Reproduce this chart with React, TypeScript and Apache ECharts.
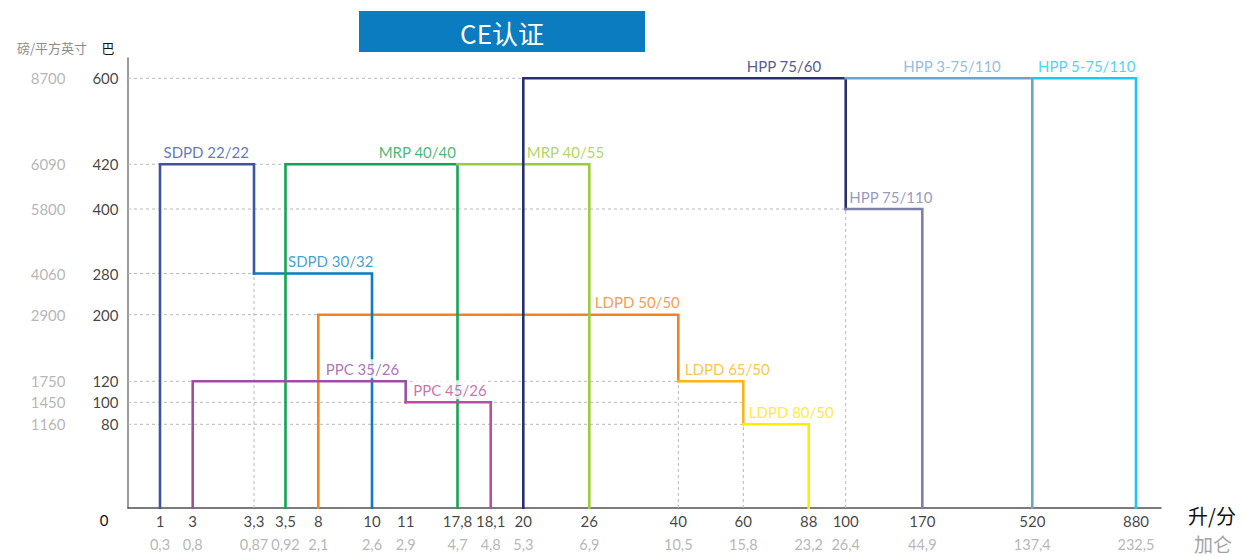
import React, { useEffect, useRef } from "react";
import * as echarts from "echarts";

// ---------- data ----------
const FLOW_TICKS = [1, 3, 3.3, 3.5, 8, 10, 11, 17.8, 18.1, 20, 26, 40, 60, 88, 100, 170, 520, 880];
const FLOW_LABELS = ["1", "3", "3,3", "3,5", "8", "10", "11", "17,8", "18,1", "20", "26", "40", "60", "88", "100", "170", "520", "880"];
const GALLON_LABELS = ["0,3", "0,8", "0,87", "0,92", "2,1", "2,6", "2,9", "4,7", "4,8", "5,3", "6,9", "10,5", "15,8", "23,2", "26,4", "44,9", "137,4", "232,5"];
const BAR_TICKS = [80, 100, 120, 200, 280, 400, 420, 600];
const PSI_LABELS = ["1160", "1450", "1750", "2900", "4060", "5800", "6090", "8700"];

// pump curves: [flow l/min, pressure bar]
const SDPD_22_22 = [[1, 0], [1, 420], [3.3, 420], [3.3, 280]];
const SDPD_30_32 = [[3.3, 280], [10, 280], [10, 0]];
const MRP_40_40 = [[3.5, 0], [3.5, 420], [17.8, 420], [17.8, 0]];
const MRP_40_55 = [[17.8, 420], [26, 420], [26, 0]];
const HPP_75_60 = [[20, 0], [20, 600], [100, 600], [100, 400]];
const HPP_75_110 = [[100, 400], [170, 400], [170, 0]];
const HPP_3_75_110 = [[100, 600], [520, 600], [520, 0]];
const HPP_5_75_110 = [[520, 600], [880, 600], [880, 0]];
const LDPD_50_50 = [[8, 0], [8, 200], [40, 200], [40, 120]];
const LDPD_65_50 = [[40, 120], [60, 120], [60, 80]];
const LDPD_80_50 = [[60, 80], [88, 80], [88, 0]];
const PPC_35_26 = [[3, 0], [3, 120], [11, 120], [11, 100]];
const PPC_45_26 = [[11, 100], [18.1, 100], [18.1, 0]];

// dashed guide lines: [pressure, flow end] and [flow, pressure end]
const H_GUIDES = [[600, 20], [420, 3.5], [400, 100], [280, 3.3], [200, 8], [120, 40], [100, 60], [80, 60]];
const V_GUIDES = [[3.3, 280], [40, 120], [60, 80], [100, 400]];

// ---------- scale (piecewise, as drawn in the original) ----------
const X_SCALE_VALUES = [0, ...FLOW_TICKS];
const X_SCALE_POS = [0, 32, 64.7, 126, 157.5, 190.3, 244, 277.7, 329.5, 362.7, 395.3, 461.3, 550.3, 615.3, 680.7, 717.7, 794.3, 904.3, 1008];
const Y_SCALE_VALUES = [0, ...BAR_TICKS];
const Y_SCALE_POS = [0, 83.7, 105.7, 126.7, 193.3, 234.5, 299, 343.7, 429.7];
const X_MAX = 1033;
const Y_MAX = 450;

function mapPiece(v: number, vals: number[], pos: number[]) {
  for (let i = 0; i < vals.length - 1; i++) {
    if (v >= vals[i] && v <= vals[i + 1]) {
      const t = (v - vals[i]) / (vals[i + 1] - vals[i]);
      return pos[i] + t * (pos[i + 1] - pos[i]);
    }
  }
  return pos[pos.length - 1];
}
const fx = (v: number) => mapPiece(v, X_SCALE_VALUES, X_SCALE_POS);
const fy = (v: number) => mapPiece(v, Y_SCALE_VALUES, Y_SCALE_POS);
const pt = (p: number[]) => [fx(p[0]), fy(p[1])];

const CURVES = [
  { name: "LDPD 50/50", data: LDPD_50_50, color: "#f58220" },
  { name: "LDPD 65/50", data: LDPD_65_50, color: "#fbb616" },
  { name: "LDPD 80/50", data: LDPD_80_50, color: "#ffed00" },
  { name: "SDPD 22/22", data: SDPD_22_22, color: "#3b54a5" },
  { name: "SDPD 30/32", data: SDPD_30_32, color: "#0a7cc1" },
  { name: "MRP 40/40", data: MRP_40_40, color: "#12a650" },
  { name: "MRP 40/55", data: MRP_40_55, color: "#9dcb3c" },
  { name: "HPP 75/60", data: HPP_75_60, color: "#27306f" },
  { name: "HPP 75/110", data: HPP_75_110, color: "#7b7fae" },
  { name: "HPP 3-75/110", data: HPP_3_75_110, color: "#6ea3c9" },
  { name: "HPP 5-75/110", data: HPP_5_75_110, color: "#1cc7f1" },
  { name: "PPC 35/26", data: PPC_35_26, color: "#9a4f9f" },
  { name: "PPC 45/26", data: PPC_45_26, color: "#bf4c9d" },
];

// curve label anchors: [flow, pressure]
const CURVE_LABELS = [
  { name: "SDPD 22/22", at: [1, 420], color: "#3b54a5" },
  { name: "SDPD 30/32", at: [3.5, 280], color: "#1286c8" },
  { name: "MRP 40/40", at: [17.8, 420], color: "#12a650" },
  { name: "MRP 40/55", at: [20, 420], color: "#9dcb3c" },
  { name: "HPP 75/60", at: [100, 600], color: "#27306f" },
  { name: "HPP 75/110", at: [100, 400], color: "#7b7fae" },
  { name: "HPP 3-75/110", at: [520, 600], color: "#78acd2" },
  { name: "HPP 5-75/110", at: [880, 600], color: "#1cc7f1" },
  { name: "LDPD 50/50", at: [40, 200], color: "#f58220" },
  { name: "LDPD 65/50", at: [40, 120], color: "#fbb616" },
  { name: "LDPD 80/50", at: [60, 80], color: "#ffe600" },
  { name: "PPC 35/26", at: [11, 120], color: "#9a4f9f" },
  { name: "PPC 45/26", at: [11, 100], color: "#bf4c9d" },
];
// label placement (style): align and horizontal offset
const LABEL_PLACE: Record<string, [string, number]> = {
  "SDPD 22/22": ["left", 3],
  "SDPD 30/32": ["left", 2],
  "MRP 40/40": ["right", 0],
  "MRP 40/55": ["left", 3],
  "HPP 75/60": ["right", -23],
  "HPP 75/110": ["left", 3],
  "HPP 3-75/110": ["right", -30],
  "HPP 5-75/110": ["right", 1],
  "LDPD 50/50": ["right", 3],
  "LDPD 65/50": ["left", 6],
  "LDPD 80/50": ["left", 5],
  "PPC 35/26": ["right", -5],
  "PPC 45/26": ["left", 7],
};

const FONT = "Lato, 'DejaVu Sans', sans-serif";
const CJK = "'Noto Sans CJK SC', sans-serif";

export default function App() {
  const ref = useRef<HTMLDivElement>(null);
  useEffect(() => {
    document.body.style.margin = "0";
    if (!ref.current) return;
    const chart = echarts.init(ref.current, null, { renderer: "svg" });

    const guideStyle = { color: "#b8b8b8", width: 1, type: [3, 3] as any };
    const series: any[] = [];
    H_GUIDES.forEach(([p, f]) => {
      series.push({
        type: "line", silent: true, symbol: "none", z: 1,
        data: [pt([0, p]), pt([f, p])],
        lineStyle: guideStyle,
      });
    });
    V_GUIDES.forEach(([f, p]) => {
      series.push({
        type: "line", silent: true, symbol: "none", z: 1,
        data: [pt([f, 0]), pt([f, p])],
        lineStyle: guideStyle,
      });
    });
    CURVES.forEach((c, i) => {
      series.push({
        type: "line", name: c.name, silent: true, symbol: "none", z: 2 + i * 0.01,
        data: c.data.map(pt),
        lineStyle: { color: c.color, width: 2.6, cap: "square", join: "miter" },
      });
    });
    // curve labels
    series.push({
      type: "scatter", silent: true, symbolSize: 1, z: 5, clip: false,
      itemStyle: { color: "transparent" },
      data: CURVE_LABELS.map((l) => {
        const [align, dx] = LABEL_PLACE[l.name];
        return {
          value: pt(l.at),
          label: {
            show: true,
            formatter: l.name,
            position: [dx, -12],
            align,
            verticalAlign: "middle",
            color: l.color,
            fontSize: 15,
            fontFamily: FONT,
            backgroundColor: "#ffffff",
            padding: [1, 1, 1, 1],
            lineHeight: 17,
          },
        };
      }),
    });
    // x tick labels
    series.push({
      type: "scatter", silent: true, symbolSize: 1, z: 5, clip: false,
      itemStyle: { color: "transparent" },
      data: FLOW_TICKS.map((f) => [fx(f), 0]),
      label: {
        show: true,
        position: "bottom",
        distance: 2,
        formatter: (p: any) => `{a|${FLOW_LABELS[p.dataIndex]}}\n{b|${GALLON_LABELS[p.dataIndex]}}`,
        rich: {
          a: { fontSize: 15, color: "#111", fontFamily: FONT, lineHeight: 21, align: "center" },
          b: { fontSize: 14.5, color: "#a3a3a3", fontFamily: FONT, lineHeight: 26, align: "center" },
        },
      },
    });
    // y tick labels (bar)
    series.push({
      type: "scatter", silent: true, symbolSize: 1, z: 5, clip: false,
      itemStyle: { color: "transparent" },
      data: BAR_TICKS.map((b) => [0, fy(b)]),
      label: {
        show: true, position: "left", distance: 9,
        formatter: (p: any) => String(BAR_TICKS[p.dataIndex]),
        fontSize: 15, color: "#111", fontFamily: FONT,
      },
    });
    // y tick labels (psi)
    series.push({
      type: "scatter", silent: true, symbolSize: 1, z: 5, clip: false,
      itemStyle: { color: "transparent" },
      data: BAR_TICKS.map((b) => [0, fy(b)]),
      label: {
        show: true, position: "left", distance: 62,
        formatter: (p: any) => PSI_LABELS[p.dataIndex],
        fontSize: 15, color: "#a3a3a3", fontFamily: FONT,
      },
    });

    chart.setOption({
      animation: false,
      backgroundColor: "#ffffff",
      grid: { left: 128, top: 58, width: X_MAX, height: Y_MAX },
      xAxis: {
        type: "value", min: 0, max: X_MAX,
        axisLine: { show: true, lineStyle: { color: "#505050", width: 1.5 } },
        axisTick: { show: false }, axisLabel: { show: false }, splitLine: { show: false },
      },
      yAxis: {
        type: "value", min: 0, max: Y_MAX,
        axisLine: { show: true, lineStyle: { color: "#7a7a7a", width: 1.5 } },
        axisTick: { show: false }, axisLabel: { show: false }, splitLine: { show: false },
      },
      graphic: [
        { type: "rect", left: 359, top: 11, shape: { width: 286, height: 41 }, style: { fill: "#0a7cbf" } },
        {
          type: "text", x: 502, y: 32,
          style: { text: "CE认证", fill: "#ffffff", font: `26px ${CJK}`, align: "center", verticalAlign: "middle" },
        },
        { type: "text", x: 52, y: 47, style: { text: "磅/平方英寸", fill: "#8c8c8c", font: `13px ${CJK}`, align: "center", verticalAlign: "middle" } },
        { type: "text", x: 108, y: 47, style: { text: "巴", fill: "#111", font: `13px ${CJK}`, align: "center", verticalAlign: "middle" } },
        { type: "text", x: 104, y: 520, style: { text: "0", fill: "#111", font: `15px ${FONT}`, align: "center", verticalAlign: "middle" } },
        { type: "text", x: 1212, y: 515, style: { text: "升/分", fill: "#111", font: `20px ${CJK}`, align: "center", verticalAlign: "middle" } },
        { type: "text", x: 1213, y: 543, style: { text: "加仑", fill: "#a3a3a3", font: `19px ${CJK}`, align: "center", verticalAlign: "middle" } },
      ],
      series,
    });
    return () => chart.dispose();
  }, []);
  return <div ref={ref} style={{ width: 1243, height: 556 }} />;
}
